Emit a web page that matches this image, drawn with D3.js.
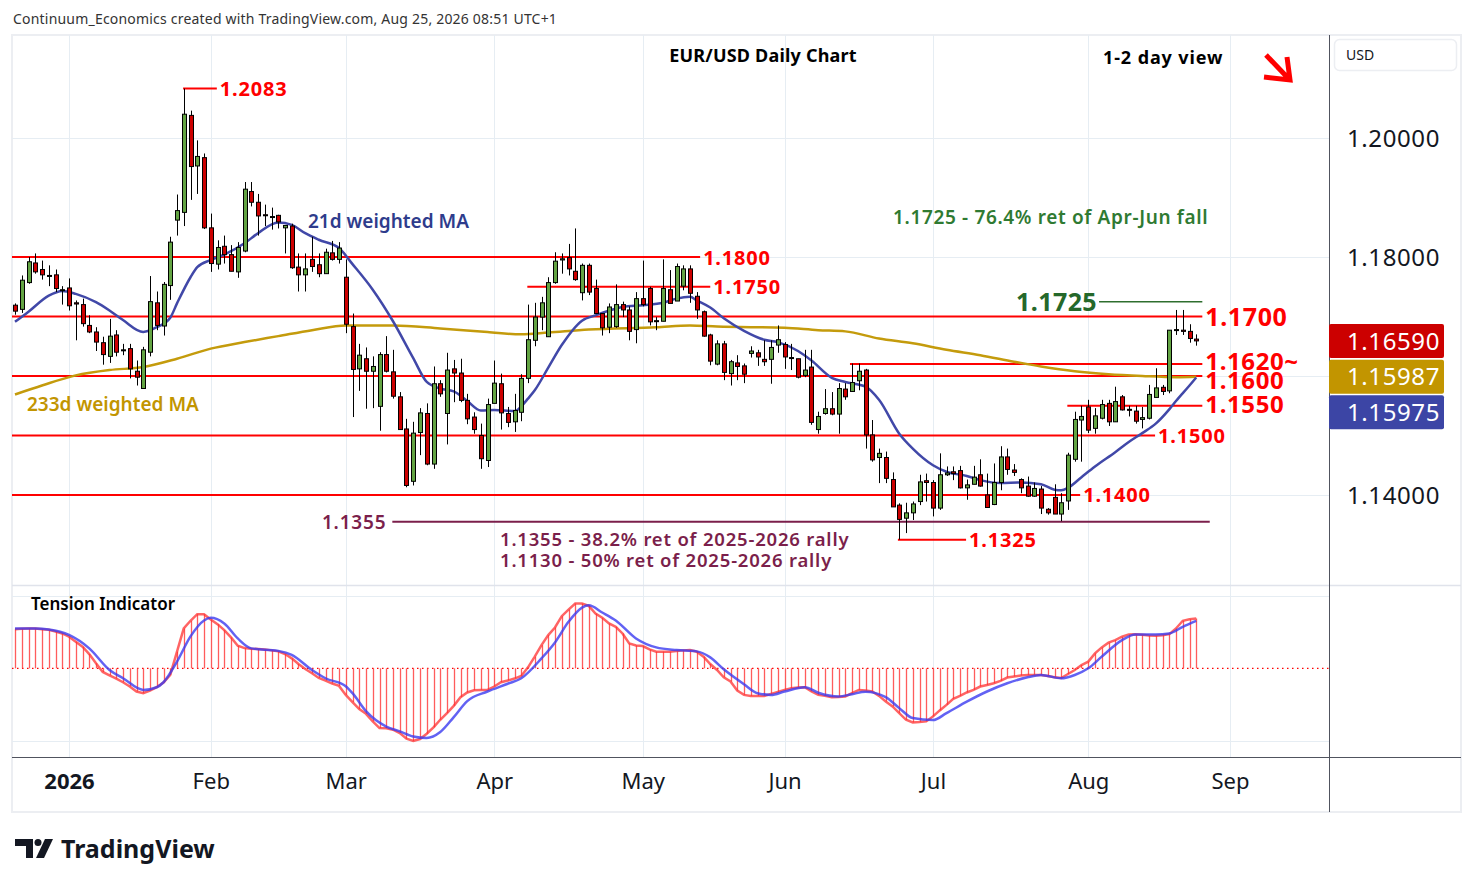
<!DOCTYPE html>
<html>
<head>
<meta charset="utf-8">
<script src="https://cdn.jsdelivr.net/npm/d3@7/dist/d3.min.js"></script>
<style>
  body { margin: 0; background: #fff; }
  svg { display: block; }
</style>
</head>
<body>
<div id="chart"></div>
<script>
// bar index 0 = 19 Dec 2025, index 175 = 25 Aug 2026 (daily FX bars)
const monthTicks = ["2026", "Feb", "Mar", "Apr", "May", "Jun", "Jul", "Aug", "Sep"];
const monthTickBars = [8, 29, 49, 71, 93, 114, 136, 159, 180];
const priceTicks = [1.14, 1.16, 1.18, 1.20];

const opens = [1.1719,1.1712,1.1757,1.1790,1.1779,1.1768,1.1770,1.1745,1.1748,1.1723,
  1.1720,1.1685,1.1674,1.1656,1.1633,1.1669,1.1644,1.1646,1.1608,1.1579,
  1.1640,1.1723,1.1684,1.1752,1.1862,1.1875,1.2038,1.1953,1.1967,1.1849,
  1.1788,1.1818,1.1804,1.1775,1.1810,1.1910,1.1892,1.1871,1.1867,1.1870,
  1.1849,1.1852,1.1783,1.1770,1.1796,1.1787,1.1772,1.1807,1.1796,1.1766,
  1.1683,1.1612,1.1629,1.1608,1.1549,1.1636,1.1607,1.1565,1.1511,1.1423,
  1.1505,1.1537,1.1452,1.1587,1.1537,1.1612,1.1605,1.1559,1.1531,1.1500,
  1.1458,1.1554,1.1587,1.1537,1.1523,1.1539,1.1596,1.1660,1.1699,1.1666,
  1.1757,1.1795,1.1799,1.1776,1.1740,1.1786,1.1747,1.1705,1.1682,1.1683,
  1.1720,1.1711,1.1678,1.1730,1.1747,1.1692,1.1692,1.1745,1.1726,1.1751,
  1.1780,1.1734,1.1708,1.1669,1.1620,1.1654,1.1604,1.1622,1.1617,1.1638,
  1.1639,1.1628,1.1628,1.1652,1.1653,1.1630,1.1629,1.1601,1.1615,1.1510,
  1.1537,1.1545,1.1536,1.1578,1.1574,1.1592,1.1610,1.1501,1.1463,1.1463,
  1.1426,1.1383,1.1361,1.1370,1.1389,1.1424,1.1421,1.1378,1.1434,1.1439,
  1.1441,1.1412,1.1418,1.1434,1.1400,1.1384,1.1421,1.1464,1.1442,1.1426,
  1.1415,1.1398,1.1410,1.1376,1.1396,1.1368,1.1390,1.1460,1.1526,1.1548,
  1.1512,1.1529,1.1554,1.1523,1.1565,1.1544,1.1541,1.1527,1.1529,1.1564,
  1.1581,1.1575,1.1677,1.1677,1.1675,1.1662];
const highs = [1.1722,1.1769,1.1800,1.1806,1.1794,1.1786,1.1779,1.1751,1.1764,1.1727,
  1.1730,1.1702,1.1682,1.1666,1.1696,1.1677,1.1654,1.1654,1.1626,1.1649,
  1.1768,1.1742,1.1758,1.1834,1.1905,1.2083,1.2046,1.1996,1.1974,1.1873,
  1.1828,1.1836,1.1820,1.1825,1.1926,1.1926,1.1906,1.1888,1.1883,1.1871,
  1.1853,1.1856,1.1806,1.1806,1.1834,1.1806,1.1814,1.1827,1.1825,1.1796,
  1.1705,1.1654,1.1648,1.1633,1.1640,1.1667,1.1644,1.1573,1.1528,1.1523,
  1.1546,1.1554,1.1616,1.1593,1.1639,1.1627,1.1629,1.1570,1.1539,1.1520,
  1.1562,1.1626,1.1604,1.1548,1.1570,1.1603,1.1720,1.1723,1.1733,1.1766,
  1.1808,1.1806,1.1822,1.1848,1.1789,1.1789,1.1762,1.1705,1.1722,1.1754,
  1.1725,1.1717,1.1741,1.1794,1.1750,1.1699,1.1796,1.1778,1.1789,1.1786,
  1.1786,1.1741,1.1710,1.1671,1.1660,1.1659,1.1627,1.1635,1.1621,1.1650,
  1.1644,1.1660,1.1660,1.1685,1.1657,1.1654,1.1629,1.1644,1.1644,1.1540,
  1.1578,1.1573,1.1588,1.1588,1.1621,1.1621,1.1612,1.1526,1.1478,1.1473,
  1.1438,1.1386,1.1387,1.1389,1.1434,1.1436,1.1425,1.1470,1.1448,1.1448,
  1.1449,1.1426,1.1449,1.1460,1.1436,1.1453,1.1482,1.1478,1.1452,1.1428,
  1.1431,1.1421,1.1415,1.1378,1.1418,1.1403,1.1471,1.1540,1.1550,1.1560,
  1.1546,1.1560,1.1560,1.1582,1.1568,1.1550,1.1550,1.1548,1.1585,1.1613,
  1.1585,1.1677,1.1711,1.1711,1.1687,1.1670];
const lows = [1.1703,1.1706,1.1755,1.1772,1.1762,1.1751,1.1741,1.1720,1.1710,1.1660,
  1.1683,1.1672,1.1642,1.1619,1.1622,1.1633,1.1635,1.1596,1.1584,1.1579,
  1.1633,1.1677,1.1668,1.1728,1.1836,1.1852,1.1896,1.1906,1.1847,1.1775,
  1.1779,1.1789,1.1776,1.1765,1.1808,1.1885,1.1836,1.1852,1.1846,1.1848,
  1.1806,1.1780,1.1742,1.1742,1.1775,1.1766,1.1772,1.1794,1.1789,1.1672,
  1.1531,1.1575,1.1545,1.1546,1.1508,1.1606,1.1562,1.1510,1.1413,1.1416,
  1.1467,1.1450,1.1444,1.1565,1.1485,1.1556,1.1556,1.1519,1.1503,1.1444,
  1.1447,1.1554,1.1510,1.1514,1.1506,1.1524,1.1588,1.1650,1.1677,1.1666,
  1.1755,1.1772,1.1769,1.1760,1.1727,1.1736,1.1704,1.1668,1.1672,1.1681,
  1.1699,1.1660,1.1655,1.1717,1.1685,1.1677,1.1692,1.1722,1.1726,1.1744,
  1.1723,1.1696,1.1666,1.1618,1.1618,1.1593,1.1584,1.1593,1.1588,1.1631,
  1.1617,1.1617,1.1587,1.1639,1.1612,1.1610,1.1596,1.1598,1.1518,1.1503,
  1.1535,1.1534,1.1503,1.1560,1.1574,1.1576,1.1478,1.1456,1.1420,1.1420,
  1.1380,1.1325,1.1336,1.1358,1.1383,1.1389,1.1364,1.1375,1.1432,1.1425,
  1.1411,1.1392,1.1418,1.1414,1.1379,1.1383,1.1408,1.1434,1.1432,1.1403,
  1.1397,1.1397,1.1368,1.1367,1.1368,1.1356,1.1375,1.1456,1.1456,1.1504,
  1.1503,1.1527,1.1516,1.1523,1.1542,1.1532,1.1520,1.1512,1.1527,1.1564,
  1.1568,1.1571,1.1669,1.1669,1.1656,1.1651];
const closes = [1.1709,1.1761,1.1792,1.1775,1.1770,1.1769,1.1747,1.1745,1.1718,1.1721,
  1.1688,1.1674,1.1657,1.1636,1.1667,1.1640,1.1644,1.1612,1.1598,1.1644,
  1.1725,1.1685,1.1754,1.1825,1.1878,1.2040,1.1952,1.1969,1.1849,1.1789,
  1.1816,1.1804,1.1776,1.1816,1.1914,1.1892,1.1869,1.1870,1.1868,1.1859,
  1.1853,1.1782,1.1770,1.1780,1.1784,1.1772,1.1808,1.1796,1.1815,1.1687,
  1.1611,1.1635,1.1608,1.1616,1.1636,1.1608,1.1566,1.1510,1.1416,1.1504,
  1.1538,1.1452,1.1587,1.1570,1.1610,1.1605,1.1559,1.1528,1.1510,1.1461,
  1.1552,1.1588,1.1538,1.1522,1.1542,1.1596,1.1661,1.1699,1.1723,1.1757,
  1.1793,1.1797,1.1780,1.1762,1.1786,1.1741,1.1705,1.1681,1.1716,1.1720,
  1.1711,1.1675,1.1730,1.1720,1.1691,1.1693,1.1747,1.1722,1.1784,1.1780,
  1.1739,1.1711,1.1667,1.1625,1.1654,1.1606,1.1624,1.1616,1.1603,1.1642,
  1.1632,1.1624,1.1648,1.1661,1.1632,1.1631,1.1598,1.1610,1.1522,1.1532,
  1.1545,1.1536,1.1579,1.1565,1.1589,1.1608,1.1501,1.1459,1.1470,1.1428,
  1.1380,1.1359,1.1370,1.1385,1.1422,1.1421,1.1378,1.1434,1.1437,1.1436,
  1.1412,1.1417,1.1430,1.1415,1.1379,1.1421,1.1464,1.1443,1.1438,1.1412,
  1.1398,1.1411,1.1378,1.1370,1.1368,1.1387,1.1467,1.1527,1.1532,1.1509,
  1.1533,1.1552,1.1523,1.1557,1.1543,1.1543,1.1524,1.1530,1.1569,1.1580,
  1.1574,1.1677,1.1678,1.1675,1.1663,1.1659];

// 21d weighted MA, read at selected bars
const ma21Bars = [0,2,5,7,9,12,14,16,19,21,23,24,26,27,29,31,34,36,39,41,43,45,48,50,53,56,59,61,63,65,67,69,71,74,75,76,77,79,81,84,86,90,93,96,98,100,101,103,105,108,111,113,116,118,121,123,126,128,131,133,136,138,141,143,146,149,152,154,155,156,158,160,163,165,167,169,171,172,174,175];
const ma21Vals = [1.1691,1.1708,1.1735,1.1743,1.1738,1.1724,1.1710,1.1694,1.1674,1.1682,1.1698,1.1722,1.1766,1.1783,1.1795,1.1804,1.1823,1.1840,1.1858,1.1854,1.1840,1.1829,1.1815,1.1788,1.1745,1.1692,1.1630,1.1590,1.1579,1.1574,1.1558,1.1542,1.1543,1.1541,1.1549,1.1562,1.1576,1.1614,1.1652,1.1693,1.1702,1.1716,1.1719,1.1723,1.1730,1.1733,1.1727,1.1715,1.1697,1.1676,1.1661,1.1657,1.1642,1.1626,1.1597,1.1590,1.1582,1.1560,1.1503,1.1478,1.1450,1.1439,1.1432,1.1425,1.1420,1.1421,1.1418,1.1409,1.1408,1.1412,1.1430,1.1448,1.1472,1.1489,1.1504,1.1520,1.1544,1.1558,1.1584,1.15975];
// 233d weighted MA, read at selected bars
const ma233Bars = [0,4,9,14,19,24,29,34,39,44,49,56,63,70,75,79,85,95,100,104,114,119,123,128,133,138,143,148,152,157,162,167,172,175];
const ma233Vals = [1.1569,1.1584,1.1601,1.1610,1.1615,1.1629,1.1646,1.1657,1.1667,1.1677,1.1685,1.1685,1.1680,1.1674,1.1670,1.1673,1.1678,1.1682,1.1685,1.1683,1.1681,1.1677,1.1675,1.1663,1.1655,1.1644,1.1635,1.1624,1.1616,1.1608,1.1603,1.1600,1.1598,1.15987];

// Tension Indicator (one value per bar) and its signal line
const tension = [3.93,3.97,4.0,4.0,3.93,3.87,3.7,3.5,3.17,2.67,
  2.17,1.43,0.5,-0.37,-0.7,-1.03,-1.4,-1.83,-2.33,-2.5,
  -2.23,-1.9,-1.43,-0.67,1.67,4.0,4.77,5.43,5.43,4.9,
  4.43,3.83,3.1,2.27,2.03,1.97,1.93,1.9,1.8,1.7,
  1.43,1.0,0.43,-0.07,-0.5,-0.97,-1.23,-1.53,-1.77,-2.67,
  -3.4,-4.1,-4.57,-5.33,-6.0,-6.03,-6.17,-6.5,-7.07,-7.3,
  -7.1,-6.57,-5.93,-5.17,-4.5,-3.77,-2.9,-2.43,-2.2,-2.17,
  -2.17,-1.83,-1.4,-1.23,-1.03,-0.77,0.1,1.17,2.33,3.33,
  4.1,5.23,5.9,6.5,6.5,6.27,5.5,5.07,4.5,4.17,
  3.5,2.5,2.3,2.23,1.9,1.67,1.67,1.67,1.73,1.8,
  1.83,1.67,1.17,0.43,-0.17,-0.9,-1.33,-2.23,-2.67,-2.77,
  -2.77,-2.77,-2.57,-2.37,-2.17,-2.0,-1.93,-1.9,-2.33,-2.67,
  -2.77,-2.9,-2.87,-2.83,-2.5,-2.17,-2.23,-2.33,-2.77,-3.33,
  -3.83,-4.5,-5.17,-5.43,-5.4,-5.33,-4.83,-4.23,-3.67,-3.07,
  -2.77,-2.43,-2.17,-1.83,-1.67,-1.5,-1.27,-0.93,-0.83,-0.73,
  -0.67,-0.67,-0.67,-0.77,-0.9,-0.97,-0.57,-0.17,0.33,0.67,
  1.5,2.1,2.57,2.83,3.17,3.4,3.43,3.37,3.3,3.27,
  3.33,3.43,4.0,4.77,4.93,5.0];
const signalBars = [0,3,5,8,11,14,16,19,21,22,24,26,28,29,31,33,35,39,41,44,46,49,50,52,55,57,59,61,63,65,67,70,73,75,78,80,82,84,85,87,89,92,95,98,101,103,105,108,110,112,114,117,119,122,124,126,129,131,133,136,138,141,144,147,150,152,155,157,159,161,164,166,169,171,173,175];
const signalVals = [4.0,4.0,3.9,3.35,2.0,-0.17,-1.0,-2.17,-1.9,-1.4,0.67,3.2,4.8,5.07,4.5,3.0,2.0,1.75,1.35,-0.17,-1.0,-1.8,-2.5,-4.3,-5.85,-6.33,-6.85,-7.0,-6.4,-4.9,-3.3,-2.33,-1.55,-1.0,1.0,2.6,4.67,6.1,6.33,5.6,4.8,3.0,2.1,1.83,1.7,1.1,-0.1,-1.6,-2.5,-2.67,-2.33,-1.9,-2.45,-2.83,-2.6,-2.35,-2.9,-4.0,-5.0,-5.2,-4.5,-3.35,-2.33,-1.5,-0.9,-0.67,-1.0,-0.67,0.0,1.17,2.83,3.4,3.4,3.5,4.17,4.77];

// last values shown on the price scale: close, 233d MA, 21d MA
const tagValues = [1.16590, 1.15987, 1.15975];
const tagColors = ["#cc0000", "#c29500", "#3c45a5"];

const FONT = "'Noto Sans', 'DejaVu Sans', sans-serif";

function init() {
    let width = 1474;
    let height = 887;
    let left = 12, right = 1329, top = 35, mainBottom = 585, indTop = 587, indBottom = 757, outerRight = 1461, outerBottom = 812;

    let svg = d3.select("#chart")
        .append("svg")
        .attr("width", width)
        .attr("height", height)
        .style("font-family", FONT);

    let xScale = d3.scaleLinear().domain([0, 175]).range([15, 1196.25]);
    let yScale = d3.scaleLinear().domain([1.14, 1.20]).range([495, 138]);
    let tScale = d3.scaleLinear().domain([-7.3, 7.3]).range([741, 595.6]);

    // header
    svg.append("text")
        .attr("x", 13).attr("y", 24)
        .attr("font-size", 14).attr("fill", "#333").attr("letter-spacing", 0.2)
        .text("Continuum_Economics created with TradingView.com, Aug 25, 2026 08:51 UTC+1");

    // frame
    svg.append("rect")
        .attr("x", left).attr("y", top)
        .attr("width", outerRight - left).attr("height", outerBottom - top)
        .attr("fill", "none").attr("stroke", "#eceef2").attr("stroke-width", 2);

    // grid
    let grid = svg.append("g");
    grid.selectAll(".vg").data(monthTickBars).enter().append("line")
        .attr("x1", d => Math.round(xScale(d)) + 0.5).attr("x2", d => Math.round(xScale(d)) + 0.5)
        .attr("y1", top).attr("y2", indBottom)
        .attr("stroke", "#e6edf3").attr("stroke-width", 1);
    grid.selectAll(".hg").data(priceTicks).enter().append("line")
        .attr("x1", left).attr("x2", right)
        .attr("y1", d => Math.round(yScale(d)) + 0.5).attr("y2", d => Math.round(yScale(d)) + 0.5)
        .attr("stroke", "#e6edf3").attr("stroke-width", 1);
    grid.selectAll(".tg").data([-7.3, 7.3]).enter().append("line")
        .attr("x1", left).attr("x2", right)
        .attr("y1", d => Math.round(tScale(d)) + 0.5).attr("y2", d => Math.round(tScale(d)) + 0.5)
        .attr("stroke", "#e6edf3").attr("stroke-width", 1);

    // panel separators and axis lines
    svg.append("line").attr("x1", left).attr("x2", outerRight).attr("y1", mainBottom + 0.5).attr("y2", mainBottom + 0.5)
        .attr("stroke", "#e0e3eb").attr("stroke-width", 1.5);
    svg.append("line").attr("x1", left).attr("x2", outerRight).attr("y1", indBottom + 0.5).attr("y2", indBottom + 0.5)
        .attr("stroke", "#50535e").attr("stroke-width", 1);
    svg.append("line").attr("x1", right + 0.5).attr("x2", right + 0.5).attr("y1", top).attr("y2", outerBottom)
        .attr("stroke", "#50535e").attr("stroke-width", 1);

    svg.append("clipPath").attr("id", "mainClip").append("rect")
        .attr("x", left).attr("y", top).attr("width", right - left).attr("height", mainBottom - top);
    let main = svg.append("g").attr("clip-path", "url(#mainClip)");

    // level lines
    let levels = [
        { v: 1.1800, from: null, to: 101.5, label: "1.1800", size: 20, color: "#ff0000", dy: 1 },
        { v: 1.1750, from: 75.9, to: 103, label: "1.1750", size: 20, color: "#ff0000", dy: 0 },
        { v: 1.1700, from: null, to: 175.9, label: "1.1700", size: 25, color: "#ff0000", dy: 0 },
        { v: 1.1620, from: 123.7, to: 175.9, label: "1.1620~", size: 24, color: "#ff0000", dy: -3 },
        { v: 1.1600, from: null, to: 175.9, label: "1.1600", size: 24, color: "#ff0000", dy: 4 },
        { v: 1.1550, from: 155.9, to: 175.9, label: "1.1550", size: 24, color: "#ff0000", dy: -1 },
        { v: 1.1500, from: null, to: 168.9, label: "1.1500", size: 20, color: "#ff0000", dy: 0 },
        { v: 1.1400, from: null, to: 157.8, label: "1.1400", size: 20, color: "#ff0000", dy: 0 },
        { v: 1.1325, from: 130.8, to: 140.9, label: "1.1325", size: 20, color: "#ff0000", dy: 0 },
        { v: 1.2083, from: 24.9, to: 29.9, label: "1.2083", size: 20, color: "#ff0000", dy: 0 }
    ];
    main.selectAll(".lvl").data(levels).enter().append("line")
        .attr("x1", d => d.from === null ? left : xScale(d.from))
        .attr("x2", d => xScale(d.to))
        .attr("y1", d => yScale(d.v)).attr("y2", d => yScale(d.v))
        .attr("stroke", d => d.color).attr("stroke-width", 2);
    main.selectAll(".lvlt").data(levels).enter().append("text")
        .attr("x", d => xScale(d.to) + 3)
        .attr("y", d => yScale(d.v) + d.dy)
        .attr("dy", "0.36em")
        .attr("font-size", d => d.size).attr("font-weight", "bold")
        .attr("letter-spacing", d => d.size < 24 ? 0.8 : 0.6)
        .attr("fill", d => d.color)
        .text(d => d.label);

    // 1.1355 retracement line (purple)
    main.append("line")
        .attr("x1", xScale(55.9)).attr("x2", xScale(177))
        .attr("y1", yScale(1.1355)).attr("y2", yScale(1.1355))
        .attr("stroke", "#7b1f4b").attr("stroke-width", 2);
    main.append("text").attr("x", xScale(55.9) - 6).attr("y", yScale(1.1355)).attr("dy", "0.36em")
        .attr("text-anchor", "end").attr("font-size", 19).attr("font-weight", 600).attr("fill", "#7b1f4b")
        .attr("letter-spacing", 0.8)
        .text("1.1355");

    // 1.1725 target line (green)
    main.append("line")
        .attr("x1", xScale(160.6)).attr("x2", xScale(175.9))
        .attr("y1", yScale(1.1725)).attr("y2", yScale(1.1725))
        .attr("stroke", "#2e6e2e").attr("stroke-width", 1.5);
    main.append("text").attr("x", xScale(160.6) - 2).attr("y", yScale(1.1725)).attr("dy", "0.36em")
        .attr("text-anchor", "end").attr("font-size", 25).attr("font-weight", "bold").attr("fill", "#25682a")
        .attr("letter-spacing", 0.4)
        .text("1.1725");

    // moving averages
    let ma21 = ma21Bars.map((b, i) => ({ x: b, y: ma21Vals[i] }));
    let ma233 = ma233Bars.map((b, i) => ({ x: b, y: ma233Vals[i] }));
    let maLine = d3.line().curve(d3.curveMonotoneX)
        .x(d => xScale(d.x)).y(d => yScale(d.y));
    main.append("path").datum(ma233)
        .attr("fill", "none").attr("stroke", "#c49b0c").attr("stroke-width", 2.5)
        .attr("d", maLine);
    main.append("path").datum(ma21)
        .attr("fill", "none").attr("stroke", "#4148a8").attr("stroke-width", 2.5)
        .attr("d", maLine);

    // candles
    let candles = opens.map((o, i) => ({ i: i, o: o, h: highs[i], l: lows[i], c: closes[i] }));
    main.selectAll(".wick").data(candles).enter().append("line")
        .attr("x1", d => Math.round(xScale(d.i)) + 0.5).attr("x2", d => Math.round(xScale(d.i)) + 0.5)
        .attr("y1", d => yScale(d.h)).attr("y2", d => yScale(d.l))
        .attr("stroke", "#000").attr("stroke-width", 1);
    main.selectAll(".body").data(candles).enter().append("rect")
        .attr("x", d => Math.round(xScale(d.i)) - 1.5)
        .attr("width", 4)
        .attr("y", d => yScale(Math.max(d.o, d.c)))
        .attr("height", d => Math.max(1, Math.abs(yScale(d.o) - yScale(d.c))))
        .attr("fill", d => d.c >= d.o ? "#63a443" : "#cc0000")
        .attr("stroke", "#000").attr("stroke-width", 1);

    // texts in main panel
    main.append("text").attr("x", 763).attr("y", 62).attr("text-anchor", "middle")
        .attr("font-size", 18).attr("font-weight", "bold").attr("fill", "#000")
        .attr("letter-spacing", 0.2)
        .text("EUR/USD Daily Chart");
    main.append("text").attr("x", 1103).attr("y", 64)
        .attr("font-size", 18).attr("font-weight", "bold").attr("fill", "#000")
        .attr("letter-spacing", 0.9)
        .text("1-2 day view");
    main.append("path")
        .attr("d", "M1266,55 L1288,78 M1287,57 L1290,80 L1264,77")
        .attr("fill", "none").attr("stroke", "#ff0000").attr("stroke-width", 5)
        .attr("stroke-linejoin", "miter");
    main.append("text").attr("x", 308).attr("y", 228)
        .attr("font-size", 19).attr("font-weight", 600).attr("fill", "#2e3c8c")
        .text("21d weighted MA");
    main.append("text").attr("x", 27).attr("y", 411)
        .attr("font-size", 19).attr("font-weight", 600).attr("fill", "#c29500")
        .text("233d weighted MA");
    main.append("text").attr("x", 893).attr("y", 224)
        .attr("font-size", 19).attr("font-weight", 600).attr("fill", "#2f7a32")
        .attr("letter-spacing", 0.65)
        .text("1.1725 - 76.4% ret of Apr-Jun fall");
    main.append("text").attr("x", 500).attr("y", 546)
        .attr("font-size", 18.5).attr("font-weight", 600).attr("fill", "#7b1f4b")
        .attr("letter-spacing", 0.8)
        .text("1.1355 - 38.2% ret of 2025-2026 rally");
    main.append("text").attr("x", 500).attr("y", 567)
        .attr("font-size", 18.5).attr("font-weight", 600).attr("fill", "#7b1f4b")
        .attr("letter-spacing", 0.8)
        .text("1.1130 - 50% ret of 2025-2026 rally");

    // tension indicator
    svg.append("clipPath").attr("id", "indClip").append("rect")
        .attr("x", left).attr("y", indTop).attr("width", right - left).attr("height", indBottom - indTop);
    let ind = svg.append("g").attr("clip-path", "url(#indClip)");
    ind.append("line").attr("x1", left).attr("x2", right)
        .attr("y1", tScale(0)).attr("y2", tScale(0))
        .attr("stroke", "#ff0000").attr("stroke-width", 1.2).attr("stroke-dasharray", "1.5,3.5");
    ind.selectAll(".hist").data(tension).enter().append("line")
        .attr("x1", (d, i) => Math.round(xScale(i)) + 0.5).attr("x2", (d, i) => Math.round(xScale(i)) + 0.5)
        .attr("y1", tScale(0)).attr("y2", d => tScale(d))
        .attr("stroke", "#ff4040").attr("stroke-opacity", 0.85).attr("stroke-width", 1.3);
    ind.append("path").datum(tension)
        .attr("fill", "none").attr("stroke", "#ff3030").attr("stroke-opacity", 0.75).attr("stroke-width", 2.5)
        .attr("d", d3.line().x((d, i) => xScale(i)).y(d => tScale(d)));
    let signal = signalBars.map((b, i) => ({ x: b, y: signalVals[i] }));
    ind.append("path").datum(signal)
        .attr("fill", "none").attr("stroke", "#3b3bf0").attr("stroke-opacity", 0.8).attr("stroke-width", 2.5)
        .attr("d", d3.line().curve(d3.curveMonotoneX).x(d => xScale(d.x)).y(d => tScale(d.y)));
    ind.append("text").attr("x", 31).attr("y", 610)
        .attr("font-size", 17).attr("font-weight", 600).attr("fill", "#000")
        .text("Tension Indicator");

    // time axis
    let xAxis = svg.append("g")
        .attr("transform", "translate(0," + indBottom + ")")
        .call(d3.axisBottom(xScale).tickValues(monthTickBars).tickFormat((d, i) => monthTicks[i]).tickSize(0));
    xAxis.select(".domain").remove();
    xAxis.selectAll("text")
        .attr("y", 24).attr("dy", "0.36em")
        .attr("font-family", FONT).attr("font-size", 22).attr("fill", "#131722")
        .attr("font-weight", (d, i) => i === 0 ? "bold" : "normal");

    // price axis
    let yAxis = svg.append("g")
        .attr("transform", "translate(" + right + ",0)")
        .call(d3.axisRight(yScale).tickValues(priceTicks).tickFormat(d3.format(".5f")).tickSize(0));
    yAxis.select(".domain").remove();
    yAxis.selectAll("text")
        .attr("x", 18).attr("dy", "0.36em")
        .attr("font-family", FONT).attr("font-size", 24).attr("fill", "#131722")
        .attr("letter-spacing", 0.6);

    // USD box
    svg.append("rect").attr("x", 1334.5).attr("y", 39.5).attr("width", 122).attr("height", 31).attr("rx", 5)
        .attr("fill", "#fff").attr("stroke", "#eceef2").attr("stroke-width", 1.5);
    svg.append("text").attr("x", 1346).attr("y", 60).attr("font-size", 14).attr("fill", "#131722").text("USD");

    // last value tags on price scale
    let tags = tagValues.map((v, i) => ({ v: v, color: tagColors[i], y: yScale(v) }));
    for (let k = 1; k < tags.length; k++) {
        if (tags[k].y < tags[k - 1].y + 35.5) tags[k].y = tags[k - 1].y + 35.5;
    }
    let tagG = svg.selectAll(".tag").data(tags).enter().append("g");
    tagG.append("rect")
        .attr("x", right).attr("y", d => d.y - 17).attr("width", 115).attr("height", 34).attr("rx", 2)
        .attr("fill", d => d.color);
    tagG.append("text")
        .attr("x", right + 18).attr("y", d => d.y).attr("dy", "0.36em")
        .attr("font-size", 24).attr("fill", "#fff").attr("letter-spacing", 0.6)
        .text(d => d3.format(".5f")(d.v));

    // TradingView logo
    let logo = svg.append("g").attr("fill", "#131722");
    logo.append("path").attr("d", "M15,839 H33 V858 H26 V846 H15 Z");
    logo.append("circle").attr("cx", 38).attr("cy", 842.5).attr("r", 3.5);
    logo.append("path").attr("d", "M45,839 H53 L44,858 H36 Z");
    logo.append("text").attr("x", 61).attr("y", 858)
        .attr("font-size", 25).attr("font-weight", "bold").attr("fill", "#131722")
        .text("TradingView");
}

window.addEventListener('load', init);
</script>
</body>
</html>
